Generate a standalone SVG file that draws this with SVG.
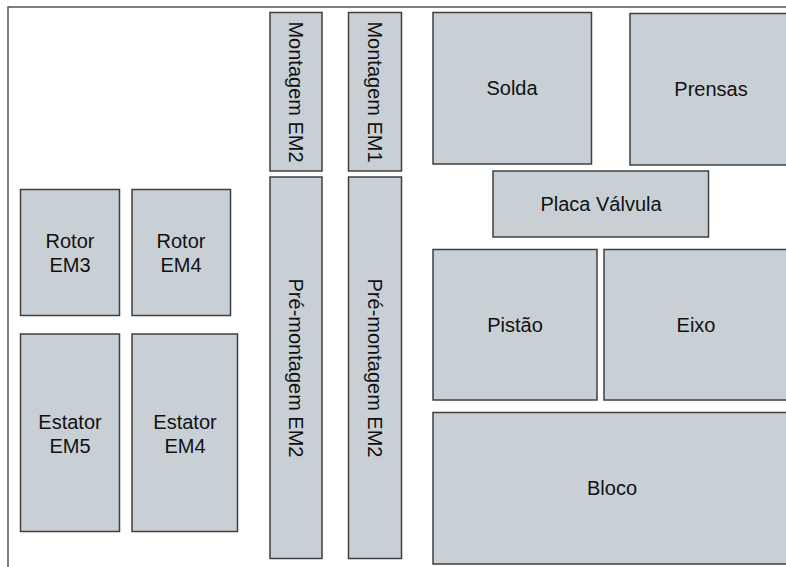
<svg xmlns="http://www.w3.org/2000/svg" width="786" height="567" viewBox="0 0 786 567">
<style>
.box{fill:#c8d0d6;stroke:#3f3f3f;stroke-width:1.5}
.lbl{font-family:"Liberation Sans",Arial,sans-serif;font-size:20px;fill:#111;text-anchor:middle}
.frame{fill:none;stroke:#555;stroke-width:1.5}
</style>
<rect width="786" height="567" fill="#fff"/>
<path class="frame" d="M8,567 V7 H786"/>
<g id="rotor-em3"><rect class="box" x="20.5" y="189.5" width="99" height="126"/><text class="lbl" x="70" y="248">Rotor</text><text class="lbl" x="70" y="271.5">EM3</text></g>
<g id="rotor-em4"><rect class="box" x="132" y="189.5" width="98.5" height="126"/><text class="lbl" x="181" y="248">Rotor</text><text class="lbl" x="181" y="271.5">EM4</text></g>
<g id="estator-em5"><rect class="box" x="20.5" y="334" width="99" height="197.5"/><text class="lbl" x="70" y="428.5">Estator</text><text class="lbl" x="70" y="452.5">EM5</text></g>
<g id="estator-em4"><rect class="box" x="132" y="334" width="105.5" height="197.5"/><text class="lbl" x="185" y="428.5">Estator</text><text class="lbl" x="185" y="452.5">EM4</text></g>
<g id="montagem-em2"><rect class="box" x="270" y="12.5" width="52" height="158.5"/><text class="lbl" transform="translate(296,92) rotate(90)" y="7">Montagem EM2</text></g>
<g id="montagem-em1"><rect class="box" x="348.5" y="12.5" width="53" height="158.5"/><text class="lbl" transform="translate(375,92) rotate(90)" y="7">Montagem EM1</text></g>
<g id="pre-montagem-1"><rect class="box" x="270" y="177" width="52" height="381.5"/><text class="lbl" transform="translate(296,368) rotate(90)" y="7">Pré-montagem EM2</text></g>
<g id="pre-montagem-2"><rect class="box" x="348.5" y="177" width="53" height="381.5"/><text class="lbl" transform="translate(375,368) rotate(90)" y="7">Pré-montagem EM2</text></g>
<g id="solda"><rect class="box" x="433" y="12.5" width="158.5" height="151.5"/><text class="lbl" x="512" y="95">Solda</text></g>
<g id="prensas"><rect class="box" x="630" y="13.5" width="162" height="151.5"/><text class="lbl" x="711" y="96">Prensas</text></g>
<g id="placa-valvula"><rect class="box" x="493" y="171" width="215.5" height="66"/><text class="lbl" x="601" y="211">Placa Válvula</text></g>
<g id="pistao"><rect class="box" x="433" y="249.5" width="164" height="150.5"/><text class="lbl" x="515" y="331.5">Pistão</text></g>
<g id="eixo"><rect class="box" x="604" y="249.5" width="186" height="150.5"/><text class="lbl" x="696" y="331.5">Eixo</text></g>
<g id="bloco"><rect class="box" x="433" y="412.5" width="358" height="151.5"/><text class="lbl" x="612" y="495">Bloco</text></g>
<g id="connectors"></g>
</svg>
